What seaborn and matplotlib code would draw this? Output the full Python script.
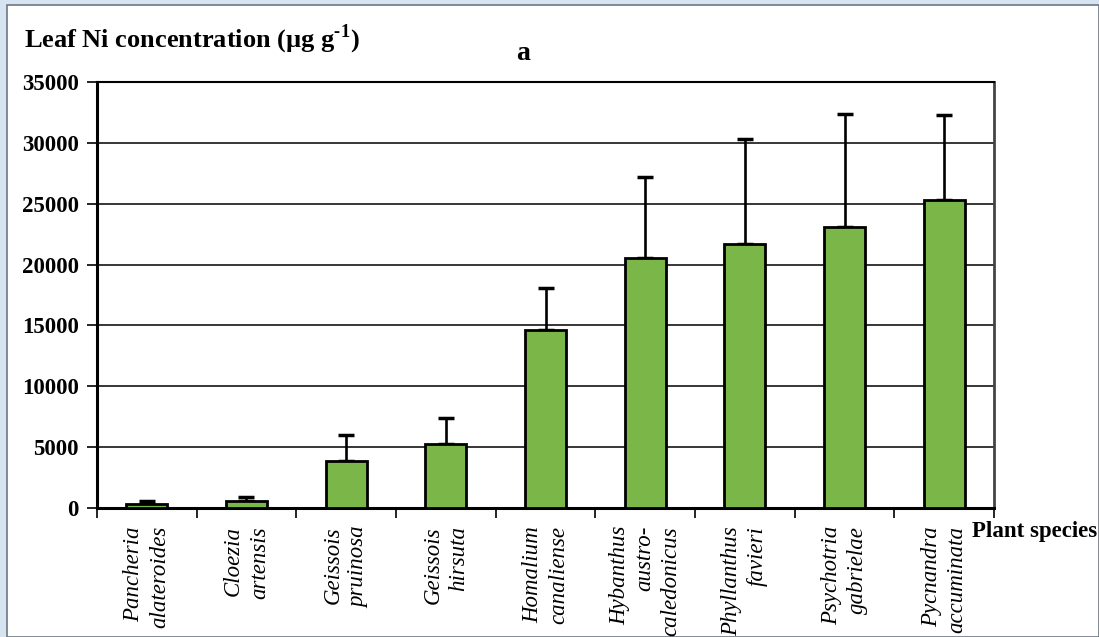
import matplotlib
matplotlib.use('Agg')
import matplotlib.pyplot as plt
import seaborn as sns
import pandas as pd
import numpy as np
from matplotlib.patches import Rectangle
from matplotlib.ticker import FixedLocator

species = [
    "Pancheria\nalateroides",
    "Cloezia\nartensis",
    "Geissois\npruinosa",
    "Geissois\nhirsuta",
    "Homalium\ncanaliense",
    "Hybanthus\naustro-\ncaledonicus",
    "Phyllanthus\nfavieri",
    "Psychotria\ngabrielae",
    "Pycnandra\naccuminata",
]
leaf_ni = [350, 550, 3900, 5250, 14600, 20500, 21700, 23100, 25300]
leaf_ni_sd = [200, 350, 2100, 2150, 3500, 6700, 8650, 9300, 7000]
y_ticks = [0, 5000, 10000, 15000, 20000, 25000, 30000, 35000]

sns.set_style("white")
plt.rcParams['font.family'] = ['Liberation Serif', 'DejaVu Serif']
plt.rcParams['mathtext.fontset'] = 'custom'
plt.rcParams['mathtext.rm'] = 'Liberation Serif:bold'
plt.rcParams['mathtext.bf'] = 'Liberation Serif:bold'
plt.rcParams['text.color'] = 'black'
plt.rcParams['xtick.color'] = 'black'
plt.rcParams['ytick.color'] = 'black'

df = pd.DataFrame({"species": species, "ni": leaf_ni})

fig = plt.figure(figsize=(10.99, 6.37), dpi=100)
fig.patch.set_facecolor('#d6e4f1')
fig.patches.append(Rectangle((7 / 1099, 0), 1 - 7 / 1099, 1 - 5 / 637,
                             transform=fig.transFigure, facecolor='white',
                             edgecolor='#6f7780', linewidth=1.2, zorder=-10))

ax = fig.add_axes([97 / 1099, 1 - 508 / 637, 897 / 1099, 426 / 637])
ax.set_zorder(1)

sns.barplot(data=df, x="species", y="ni", color='#7ab648', saturation=1,
            width=0.41, edgecolor='black', linewidth=2, errorbar=None, ax=ax, zorder=3)

pos = np.arange(len(species))
ax.errorbar(pos, leaf_ni, yerr=[np.zeros(len(leaf_ni)), leaf_ni_sd], fmt='none',
            ecolor='black', elinewidth=1.9, capsize=6, capthick=2.5, zorder=2)

ax.set_xlim(-0.5, len(species) - 0.5)
ax.set_ylim(0, 35000)
ax.set_yticks(y_ticks)
ax.set_yticklabels([str(v) for v in y_ticks], fontsize=16.5, fontweight='bold')
ax.yaxis.grid(True, color='black', linewidth=1.1, zorder=0)
ax.set_axisbelow(True)

ax.set_xticks(pos)
ax.set_xticklabels(species, rotation=90, fontsize=16.5, fontstyle='italic',
                   va='top', ha='center', multialignment='right', linespacing=1.3)
ax.tick_params(axis='x', which='major', length=0, pad=13)
ax.xaxis.set_minor_locator(FixedLocator(np.arange(-0.5, len(species), 1.0)))
ax.tick_params(axis='x', which='minor', length=7, width=1.2, direction='out', bottom=True)
ax.tick_params(axis='y', length=7, width=1.2, direction='out', left=True, pad=6)

for side in ['left', 'bottom']:
    ax.spines[side].set_linewidth(2.2)
    ax.spines[side].set_color('black')
ax.spines['top'].set_linewidth(1.5)
ax.spines['top'].set_color('black')
ax.spines['right'].set_linewidth(2)
ax.spines['right'].set_color('#444444')

ax.set_xlabel("")
ax.set_ylabel("")

fig.text(24 / 1099, 1 - 47 / 637, r"Leaf Ni concentration (µg g$^{\text{-1}}$)",
         fontsize=19, fontweight='bold', ha='left', va='baseline')
fig.text(523 / 1099, 1 - 53 / 637, "a", fontsize=20, fontweight='bold',
         ha='center', va='center')
fig.text(1097 / 1099, 1 - 532 / 637, "Plant species", fontsize=16.5, fontweight='bold',
         ha='right', va='center')

fig.savefig("out.png", dpi=100, facecolor=fig.get_facecolor())
plt.close(fig)
